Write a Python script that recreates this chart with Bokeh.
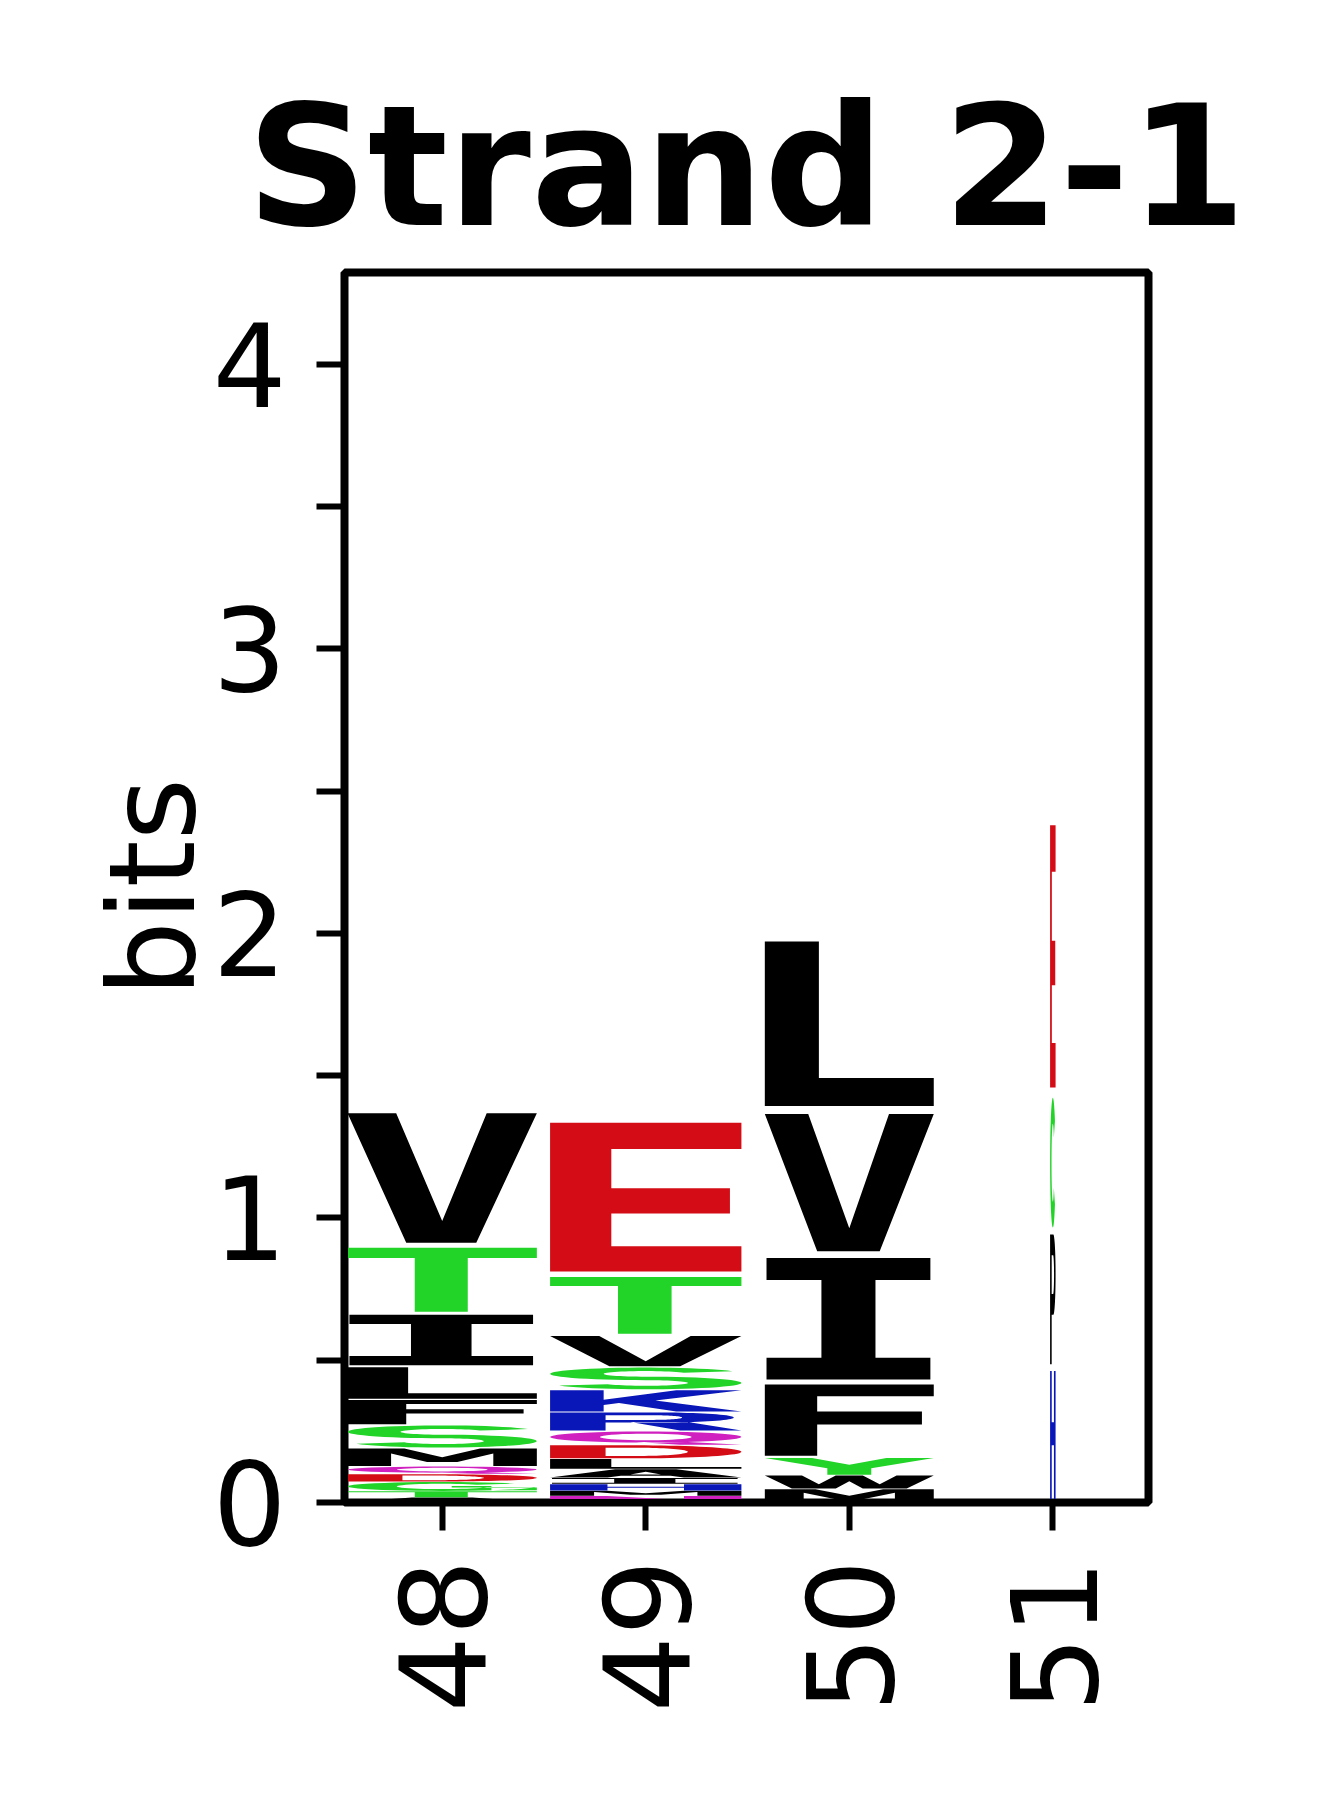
import math
import numpy as np
from bokeh.plotting import figure
from bokeh.models import FixedTicker, ColumnDataSource, Range1d
from bokeh.embed import file_html
from bokeh.resources import INLINE

# ---------------- data ----------------
positions = [48, 49, 50, 51]
col_widths = [0.93, 0.94, 0.83, 0.027]

# letters listed bottom -> top with their heights (bits)
letters_48 = ["A", "T", "G", "D", "Q", "M", "S", "F", "L", "I", "T", "V"]
bits_48 = [0.018, 0.022, 0.033, 0.027, 0.027, 0.064, 0.082, 0.089, 0.116, 0.186, 0.237, 0.479]

letters_49 = ["N", "M", "H", "I", "A", "L", "D", "Q", "R", "K", "S", "V", "T", "E"]
bits_49 = [0.023, 0.019, 0.023, 0.022, 0.031, 0.036, 0.048, 0.049, 0.067, 0.078, 0.080, 0.112, 0.210, 0.550]

letters_50 = ["M", "W", "Y", "F", "I", "V", "L"]
bits_50 = [0.048, 0.048, 0.062, 0.263, 0.449, 0.508, 0.608]

letters_51 = ["H", "P", "C", "E"]
bits_51 = [0.474, 0.480, 0.480, 0.970]

y_ticks = [0, 0.5, 1, 1.5, 2, 2.5, 3, 3.5, 4]
y_tick_labels = ["0", "", "1", "", "2", "", "3", "", "4"]
x_tick_labels = ["48", "49", "50", "51"]
title_text = "Strand 2-1"
y_label = "bits"

# colour scheme (chemistry-like)
GREEN, MAGENTA, BLUE, RED, BLACK = "#22D328", "#D020BF", "#0A17B8", "#D30C16", "#000000"
color_of = {}
for ch in "GSTYC":
    color_of[ch] = GREEN
for ch in "NQ":
    color_of[ch] = MAGENTA
for ch in "KRH":
    color_of[ch] = BLUE
for ch in "DE":
    color_of[ch] = RED
for ch in "AVLIPWFM":
    color_of[ch] = BLACK

VPAD = 0.05


# ---------------- glyph outlines in a unit box ----------------
def arc(cx, cy, rx, ry, a0, a1, n=40):
    t = np.radians(np.linspace(a0, a1, n))
    return list(zip(cx + rx * np.cos(t), cy + ry * np.sin(t)))


def glyph(ch):
    """Return list of polygons; each polygon = [exterior, hole, ...]; ring = [(u, v), ...]."""
    if ch == "A":
        ext = [(0, 0), (0.34, 1), (0.66, 1), (1, 0), (0.7, 0), (0.63, 0.2), (0.37, 0.2), (0.3, 0)]
        hole = [(0.42, 0.37), (0.58, 0.37), (0.5, 0.68)]
        return [[ext, hole]]
    if ch == "C":
        ring = arc(0.5, 0.5, 0.5, 0.5, 40, 320) + arc(0.5, 0.5, 0.24, 0.3, 320, 40)
        return [[ring]]
    if ch == "G":
        ring = arc(0.5, 0.5, 0.5, 0.5, 40, 350) + arc(0.5, 0.5, 0.24, 0.3, 350, 40)
        bar = [(0.55, 0.38), (1.0, 0.38), (1.0, 0.54), (0.55, 0.54)]
        leg = [(0.76, 0.08), (1.0, 0.08), (1.0, 0.54), (0.76, 0.54)]
        return [[ring], [bar], [leg]]
    if ch == "D":
        ext = [(0, 0), (0, 1), (0.45, 1)] + arc(0.45, 0.5, 0.55, 0.5, 90, -90) + [(0.45, 0)]
        hole = [(0.29, 0.18), (0.29, 0.82), (0.45, 0.82)] + arc(0.45, 0.5, 0.27, 0.32, 90, -90) + [(0.45, 0.18)]
        return [[ext, hole]]
    if ch == "E":
        return [[[(0, 0), (1, 0), (1, 0.17), (0.32, 0.17), (0.32, 0.39), (0.94, 0.39), (0.94, 0.56),
                  (0.32, 0.56), (0.32, 0.823), (1, 0.823), (1, 1), (0, 1)]]]
    if ch == "F":
        return [[[(0, 0), (0.31, 0), (0.31, 0.44), (0.93, 0.44), (0.93, 0.62), (0.31, 0.62),
                  (0.31, 0.835), (1, 0.835), (1, 1), (0, 1)]]]
    if ch == "H":
        return [[[(0, 0), (0, 1), (0.3, 1), (0.3, 0.6), (0.7, 0.6), (0.7, 1), (1, 1), (1, 0),
                  (0.7, 0), (0.7, 0.42), (0.3, 0.42), (0.3, 0)]]]
    if ch == "I":
        return [[[(0.01, 0), (0.98, 0), (0.98, 0.18), (0.655, 0.18), (0.655, 0.82), (0.98, 0.82),
                  (0.98, 1), (0.01, 1), (0.01, 0.82), (0.335, 0.82), (0.335, 0.18), (0.01, 0.18)]]]
    if ch == "K":
        return [[[(0, 0), (0, 1), (0.28, 1), (0.28, 0.55), (0.66, 1), (1, 1), (0.55, 0.52), (1, 0),
                  (0.66, 0), (0.36, 0.4), (0.28, 0.31), (0.28, 0)]]]
    if ch == "L":
        return [[[(0, 0), (1, 0), (1, 0.17), (0.32, 0.17), (0.32, 1), (0, 1)]]]
    if ch == "M":
        return [[[(0, 0), (0, 1), (0.3, 1), (0.5, 0.5), (0.7, 1), (1, 1), (1, 0), (0.77, 0),
                  (0.77, 0.72), (0.58, 0.22), (0.42, 0.22), (0.23, 0.72), (0.23, 0)]]]
    if ch == "N":
        return [[[(0, 0), (0, 1), (0.3, 1), (0.7, 0.38), (0.7, 1), (1, 1), (1, 0), (0.7, 0),
                  (0.3, 0.62), (0.3, 0)]]]
    if ch == "P":
        ext = [(0, 0), (0, 1), (0.58, 1)] + arc(0.58, 0.69, 0.42, 0.31, 90, -90) + [(0.58, 0.38), (0.29, 0.38), (0.29, 0)]
        hole = [(0.29, 0.54), (0.29, 0.84), (0.55, 0.84)] + arc(0.55, 0.69, 0.17, 0.15, 90, -90) + [(0.55, 0.54)]
        return [[ext, hole]]
    if ch == "R":
        ext = [(0, 0), (0, 1), (0.56, 1)] + arc(0.56, 0.72, 0.40, 0.28, 90, -90) + [(0.56, 0.44), (0.29, 0.44), (0.29, 0)]
        hole = [(0.29, 0.59), (0.29, 0.85), (0.53, 0.85)] + arc(0.53, 0.72, 0.16, 0.13, 90, -90) + [(0.53, 0.59)]
        leg = [(0.42, 0.47), (0.72, 0.47), (1, 0), (0.68, 0)]
        return [[ext, hole], [leg]]
    if ch == "Q":
        ext = arc(0.5, 0.58, 0.5, 0.42, 0, 360)
        hole = arc(0.5, 0.58, 0.24, 0.25, 0, 360)
        tail = [(0.45, 0.2), (0.72, 0.2), (1.0, 0.0), (0.68, 0.0)]
        return [[ext, hole], [tail]]
    if ch == "S":
        ring = (arc(0.5, 0.71, 0.5, 0.29, 25, 270) + arc(0.5, 0.29, 0.22, 0.13, 90, -155)
                + arc(0.5, 0.29, 0.5, 0.29, -155, 90) + arc(0.5, 0.71, 0.22, 0.13, 270, 25))
        return [[ring]]
    if ch == "T":
        return [[[(0, 1), (1, 1), (1, 0.84), (0.635, 0.84), (0.635, 0), (0.355, 0), (0.355, 0.84), (0, 0.84)]]]
    if ch == "V":
        return [[[(0, 1), (0.257, 1), (0.5, 0.167), (0.735, 1), (1, 1), (0.68, 0), (0.31, 0)]]]
    if ch == "W":
        return [[[(0, 1), (0.22, 1), (0.32, 0.32), (0.42, 1), (0.58, 1), (0.68, 0.32), (0.78, 1), (1, 1),
                  (0.84, 0), (0.58, 0), (0.5, 0.55), (0.42, 0), (0.16, 0)]]]
    if ch == "Y":
        return [[[(0, 1), (0.28, 1), (0.5, 0.6), (0.72, 1), (1, 1), (0.63, 0.38), (0.63, 0), (0.37, 0), (0.37, 0.38)]]]
    return [[[(0, 0), (1, 0), (1, 1), (0, 1)]]]


columns = [(letters_48, bits_48), (letters_49, bits_49), (letters_50, bits_50), (letters_51, bits_51)]

xs, ys, colors, names = [], [], [], []
for pos, w, (lets, vals) in zip(positions, col_widths, columns):
    floor = 0.0
    for ch, h in zip(lets, vals):
        y0 = floor + VPAD * h / 2
        y1 = floor + h - VPAD * h / 2
        x0 = pos - w / 2
        pxs, pys = [], []
        for poly in glyph(ch):
            rx, ry = [], []
            for ring in poly:
                rx.append([x0 + u * w for u, v in ring])
                ry.append([y0 + v * (y1 - y0) for u, v in ring])
            pxs.append(rx)
            pys.append(ry)
        xs.append(pxs)
        ys.append(pys)
        colors.append(color_of[ch])
        names.append(ch)
        floor += h

src = ColumnDataSource(dict(xs=xs, ys=ys, color=colors, letter=names))

# ---------------- figure ----------------
p = figure(frame_width=804, frame_height=1230,
           x_range=Range1d(47.52, 51.47), y_range=Range1d(0, math.log2(20)),
           output_backend="svg", toolbar_location=None,
           min_border_left=344, min_border_right=164, min_border_top=272, min_border_bottom=290,
           title=title_text)

p.multi_polygons(xs="xs", ys="ys", fill_color="color", line_color=None, source=src)

p.title.text_font = "DejaVu Sans"
p.title.text_font_size = "168px"
p.title.text_font_style = "bold"
p.title.align = "center"
p.title.text_color = "black"
p.title.standoff = 15

p.xgrid.visible = False
p.ygrid.visible = False
p.outline_line_color = "black"
p.outline_line_width = 8
p.outline_line_alpha = 1.0
p.background_fill_color = "white"
p.border_fill_color = "white"

for ax in (p.xaxis[0], p.yaxis[0]):
    ax.axis_line_width = 7
    ax.axis_line_color = "black"
    ax.major_tick_line_width = 6
    ax.major_tick_line_color = "black"
    ax.major_tick_out = 28
    ax.major_tick_in = 0
    ax.minor_tick_line_color = None
    ax.major_label_text_font = "DejaVu Sans"
    ax.major_label_text_font_size = "116px"
    ax.major_label_text_color = "black"

p.yaxis.ticker = FixedTicker(ticks=y_ticks, minor_ticks=[])
p.yaxis.major_label_overrides = {t: l for t, l in zip(y_ticks, y_tick_labels)}
p.yaxis.major_label_standoff = 30
p.yaxis.axis_label = y_label
p.yaxis.axis_label_text_font = "DejaVu Sans"
p.yaxis.axis_label_text_font_size = "120px"
p.yaxis.axis_label_text_font_style = "normal"
p.yaxis.axis_label_text_color = "black"
p.yaxis.axis_label_standoff = -12

p.xaxis.ticker = FixedTicker(ticks=positions, minor_ticks=[])
p.xaxis.major_label_overrides = {t: l for t, l in zip(positions, x_tick_labels)}
p.xaxis.major_label_orientation = math.pi / 2
p.xaxis.major_label_standoff = 29
p.xaxis.major_label_text_font_size = "120px"

open("out.html", "w").write(file_html(p, INLINE))
